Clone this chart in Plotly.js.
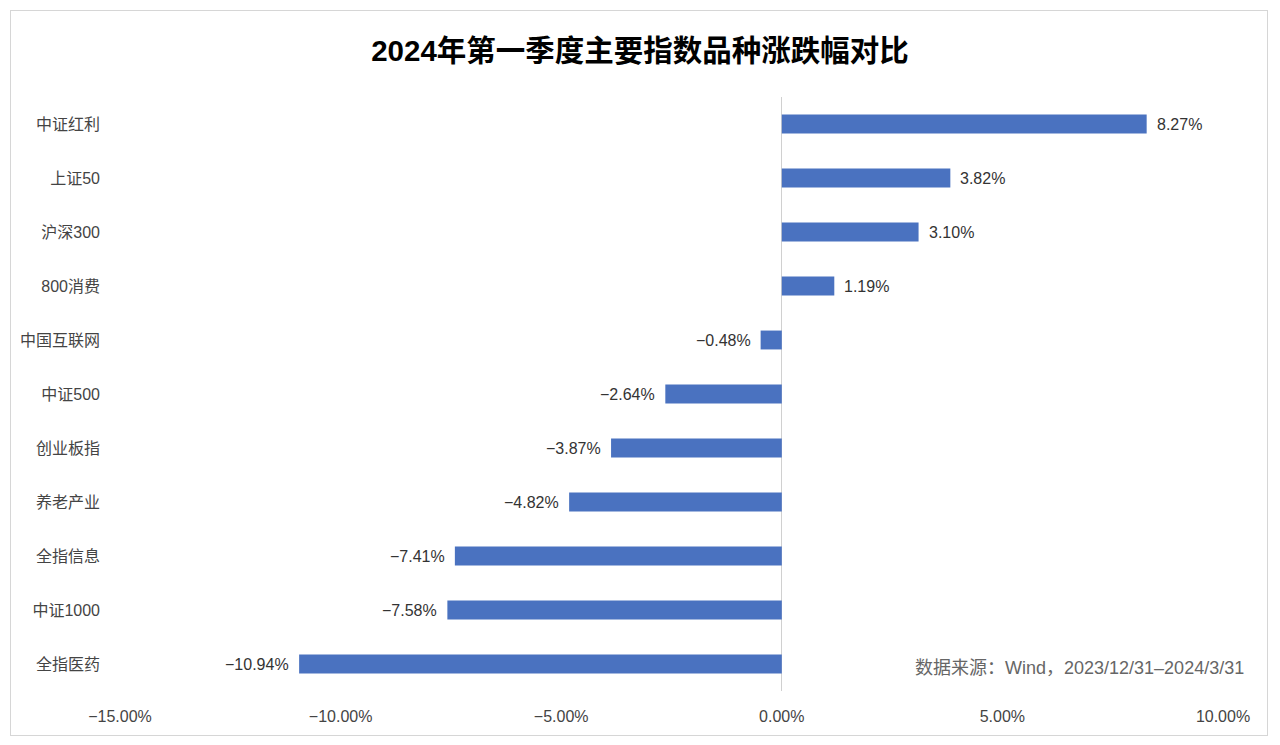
<!DOCTYPE html>
<html>
<head>
<meta charset="utf-8">
<script src="https://cdn.plot.ly/plotly-3.0.1.min.js"></script>
<style>
html,body{margin:0;padding:0;background:#fff;}
#wrap{position:relative;width:1280px;height:745px;}
#chart{width:1280px;height:745px;}
#frame{position:absolute;left:10px;top:10px;width:1258px;height:726px;border:1px solid #d6d6d6;pointer-events:none;box-sizing:border-box;}
</style>
</head>
<body>
<div id="wrap"><div id="chart"></div><div id="frame"></div></div>
<script>
const categories = ["中证红利","上证50","沪深300","800消费","中国互联网","中证500","创业板指","养老产业","全指信息","中证1000","全指医药"];
const changes = [8.27, 3.82, 3.10, 1.19, -0.48, -2.64, -3.87, -4.82, -7.41, -7.58, -10.94];
const tickValues = [-15, -10, -5, 0, 5, 10];
const tickLabels = ["−15.00%","−10.00%","−5.00%","0.00%","5.00%","10.00%"];
const chartTitle = "2024年第一季度主要指数品种涨跌幅对比";
const sourceNote = "数据来源：Wind，2023/12/31–2024/3/31";

const font = '"Liberation Sans", "Noto Sans CJK SC", sans-serif';
const labels = changes.map(v => (v < 0 ? "−" : "") + Math.abs(v).toFixed(2) + "%");

const trace = {
  type: "bar",
  orientation: "h",
  x: changes,
  y: categories,
  marker: {color: "#4a72c0"},
  hoverinfo: "skip"
};

const valueAnnotations = changes.map((v, i) => ({
  x: v, y: categories[i], xref: "x", yref: "y",
  text: labels[i], showarrow: false,
  xanchor: v < 0 ? "right" : "left", yanchor: "middle",
  xshift: v < 0 ? -8 : 8,
  font: {family: font, size: 16, color: "#333"}
}));

const layout = {
  width: 1280, height: 745,
  margin: {l: 120, r: 57, t: 97, b: 54},
  paper_bgcolor: "#fff",
  plot_bgcolor: "#fff",
  bargap: 0.65,
  showlegend: false,
  title: {text: "<b>" + chartTitle + "</b>", x: 0.5, xref: "container", xanchor: "center", y: 0.932, yanchor: "middle",
          font: {family: font, size: 29.5, color: "#000"}},
  xaxis: {
    range: [-15, 10],
    tickvals: tickValues, ticktext: tickLabels,
    showgrid: false, zeroline: true, zerolinecolor: "#d0d0d0", zerolinewidth: 1,
    showline: false, ticks: "",
    tickfont: {family: font, size: 16, color: "#444"},
    ticklabelstandoff: 14
  },
  yaxis: {
    type: "category",
    autorange: "reversed",
    showgrid: false, zeroline: false, showline: false, ticks: "",
    tickfont: {family: font, size: 16, color: "#444"},
    ticklabelstandoff: 19
  },
  annotations: valueAnnotations.concat([{
    text: sourceNote, xref: "paper", yref: "paper", x: 1.021, y: 0.038,
    xanchor: "right", yanchor: "middle", showarrow: false,
    font: {family: font, size: 18, color: "#666"}
  }])
};

Plotly.newPlot("chart", [trace], layout, {displayModeBar: false, staticPlot: true});
</script>
</body>
</html>
